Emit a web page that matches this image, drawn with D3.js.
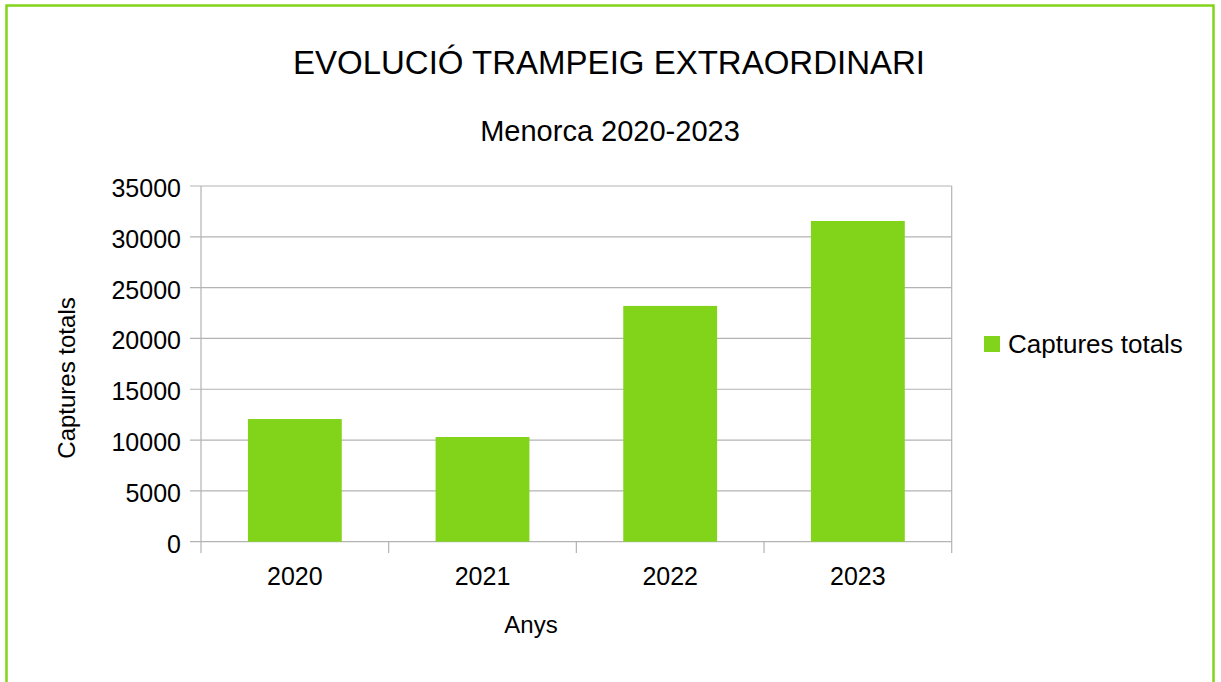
<!DOCTYPE html>
<meta charset="utf-8">
<script src="https://d3js.org/d3.v7.min.js"></script>
<style>
	body{
		margin:0;
		background:#fff;
		font-family: 'Liberation Sans', Arial, sans-serif;
	}
</style>
<div id="chart"></div>

<script>

var years = ["2020","2021","2022","2023"]
var captures = [12070, 10300, 23200, 31560]
var yTicks = [0,5000,10000,15000,20000,25000,30000,35000]

var seriesName = "Captures totals"
var title = "EVOLUCIÓ TRAMPEIG EXTRAORDINARI"
var subtitle = "Menorca 2020-2023"
var xTitle = "Anys"
var yTitle = "Captures totals"

var green = "#81d41a"
var gridColor = "#b3b3b3"

var w = 1221
var h = 682
var plotL = 201, plotR = 951.7, plotT = 186, plotB = 541.7

var svg = d3.select("#chart").append("svg")
	.attr("width",w).attr("height",h)

// green frame round the whole chart
svg.append("rect")
	.attr("x",6.5).attr("y",5.5)
	.attr("width",1207).attr("height",h+10)
	.attr("fill","none")
	.attr("stroke",green)
	.attr("stroke-width",2.5)

var x = d3.scaleBand().domain(years).range([plotL,plotR])
	.paddingInner(0.5).paddingOuter(0.25)
var y = d3.scaleLinear().domain([0,35000]).range([plotB,plotT])

// horizontal gridlines + little ticks to the left
svg.append("g").selectAll("line").data(yTicks).join("line")
	.attr("x1",190).attr("x2",plotR)
	.attr("y1",function(d){return y(d)}).attr("y2",function(d){return y(d)})
	.attr("stroke",gridColor).attr("stroke-width",1.2)

// plot box sides
svg.append("line").attr("x1",plotL).attr("x2",plotL).attr("y1",plotT).attr("y2",553)
	.attr("stroke",gridColor).attr("stroke-width",1.2)
svg.append("line").attr("x1",plotR).attr("x2",plotR).attr("y1",plotT).attr("y2",553)
	.attr("stroke",gridColor).attr("stroke-width",1.2)

// category boundary ticks under the axis
var step = x.step()
var bounds = years.slice(1).map(function(d){return x(d) - step*0.25})
svg.append("g").selectAll("line").data(bounds).join("line")
	.attr("x1",function(d){return d}).attr("x2",function(d){return d})
	.attr("y1",plotB).attr("y2",553)
	.attr("stroke",gridColor).attr("stroke-width",1.2)

// bars
svg.append("g").selectAll("rect").data(captures).join("rect")
	.attr("x",function(d,i){return x(years[i])})
	.attr("width",x.bandwidth())
	.attr("y",function(d){return y(d)})
	.attr("height",function(d){return plotB - y(d)})
	.attr("fill",green)

// y tick labels
svg.append("g").selectAll("text").data(yTicks).join("text")
	.attr("x",181).attr("y",function(d){return y(d)+11})
	.attr("text-anchor","end")
	.style("font-size","25px")
	.text(function(d){return d})

// x tick labels
svg.append("g").selectAll("text").data(years).join("text")
	.attr("x",function(d){return x(d)+x.bandwidth()/2}).attr("y",585)
	.attr("text-anchor","middle")
	.style("font-size","25px")
	.text(function(d){return d})

// titles
svg.append("text").text(title)
	.attr("x",609).attr("y",74).attr("text-anchor","middle")
	.style("font-size","33px")
svg.append("text").text(subtitle)
	.attr("x",610).attr("y",141).attr("text-anchor","middle")
	.style("font-size","29px")

svg.append("text").text(xTitle)
	.attr("x",531).attr("y",633).attr("text-anchor","middle")
	.style("font-size","24px")
svg.append("text").text(yTitle)
	.attr("transform","translate(75,378) rotate(-90)")
	.attr("text-anchor","middle")
	.style("font-size","24px")

// legend
svg.append("rect").attr("x",984).attr("y",336).attr("width",16).attr("height",16)
	.attr("fill",green)
svg.append("text").text(seriesName)
	.attr("x",1008).attr("y",353)
	.style("font-size","26px")

</script>
